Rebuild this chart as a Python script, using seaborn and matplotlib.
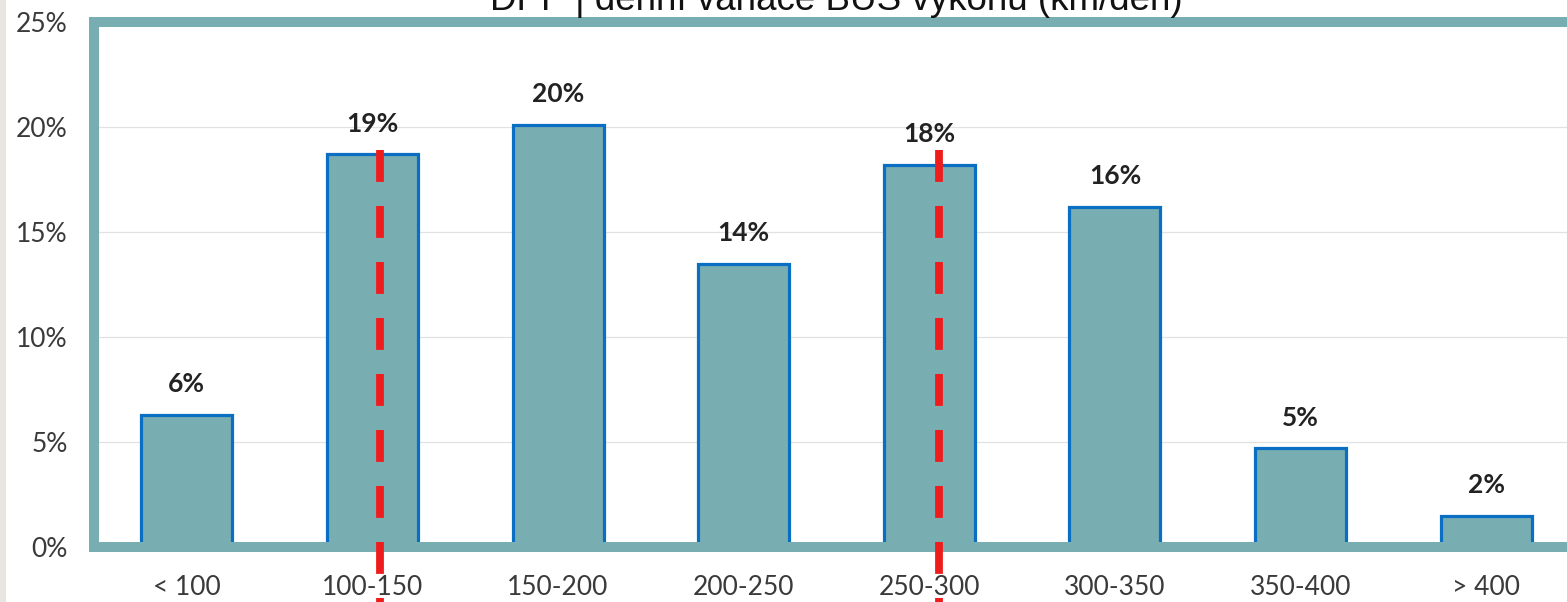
import matplotlib
matplotlib.use("Agg")
import matplotlib.pyplot as plt
from matplotlib.patches import Rectangle
from matplotlib.ticker import FuncFormatter, MultipleLocator
import seaborn as sns
import pandas as pd

# ---- data ----
categories = ["< 100", "100-150", "150-200", "200-250", "250-300", "300-350", "350-400", "> 400"]
shares = [6.3, 18.7, 20.1, 13.5, 18.2, 16.2, 4.7, 1.5]   # percent
marker_x = [1.04, 4.05]        # red dashed markers (category-axis units)
marker_top = [18.9, 18.9]      # percent
title = "DPP | denní variace BUS výkonu (km/den)"

# ---- style ----
sns.set_theme(style="white")
plt.rcParams["font.family"] = ["Lato", "DejaVu Sans"]

teal = "#78AEB2"
edge_blue = "#0A6FC2"
W, H = 1567, 602
fig = plt.figure(figsize=(W / 100, H / 100), dpi=100)
fig.patch.set_facecolor("white")
fig.patches.append(Rectangle((0, 0), 6 / W, 1, transform=fig.transFigure,
                             facecolor="#e9e5e0", edgecolor="none", zorder=0))

ax = fig.add_axes([94 / W, 55 / H, (1579 - 94) / W, (547 - 22) / H])

df = pd.DataFrame({"cat": categories, "share": shares})
sns.barplot(data=df, x="cat", y="share", order=categories, color=teal,
            saturation=1, edgecolor=edge_blue, linewidth=2.3, width=0.49, ax=ax, zorder=2)

ax.set_xlim(-0.5, 7.5)
ax.set_ylim(0, 25)
ax.yaxis.set_major_locator(MultipleLocator(5))
ax.yaxis.set_major_formatter(FuncFormatter(lambda v, p: f"{v:.0f}%"))
ax.set_xlabel("")
ax.set_ylabel("")
ax.grid(axis="y", color="#e2e2e2", linewidth=0.9, zorder=0)
ax.set_axisbelow(True)

for side in ["left", "top", "bottom"]:
    ax.spines[side].set_visible(True)
    ax.spines[side].set_color(teal)
    ax.spines[side].set_linewidth(7.2)
ax.spines["right"].set_visible(False)

ax.tick_params(axis="y", length=0, pad=19, labelsize=19, labelcolor="#3a3a3a")
ax.tick_params(axis="x", length=0, pad=20, labelsize=19, labelcolor="#3a3a3a")

# value labels
for i, v in enumerate(shares):
    ax.annotate(f"{v:.0f}%", xy=(i, v), xytext=(0, 22), textcoords="offset points",
                ha="center", va="center", fontsize=19, fontweight="bold", color="#222222")

# red dashed markers (drawn top-down so the dash pattern starts at the top)
for mx, mt in zip(marker_x, marker_top):
    ax.vlines(mx, mt, -3, colors="#EE1C1C", linewidth=5.6,
              linestyles=(0, (4.1, 3.1)), clip_on=False, zorder=5)

fig.text((94 + 1579) / 2 / W, 1 - 10 / H, title, ha="center", va="baseline",
         fontsize=26.5, family=["Liberation Sans", "DejaVu Sans"], color="#111111")

fig.savefig("out.png", dpi=100)
